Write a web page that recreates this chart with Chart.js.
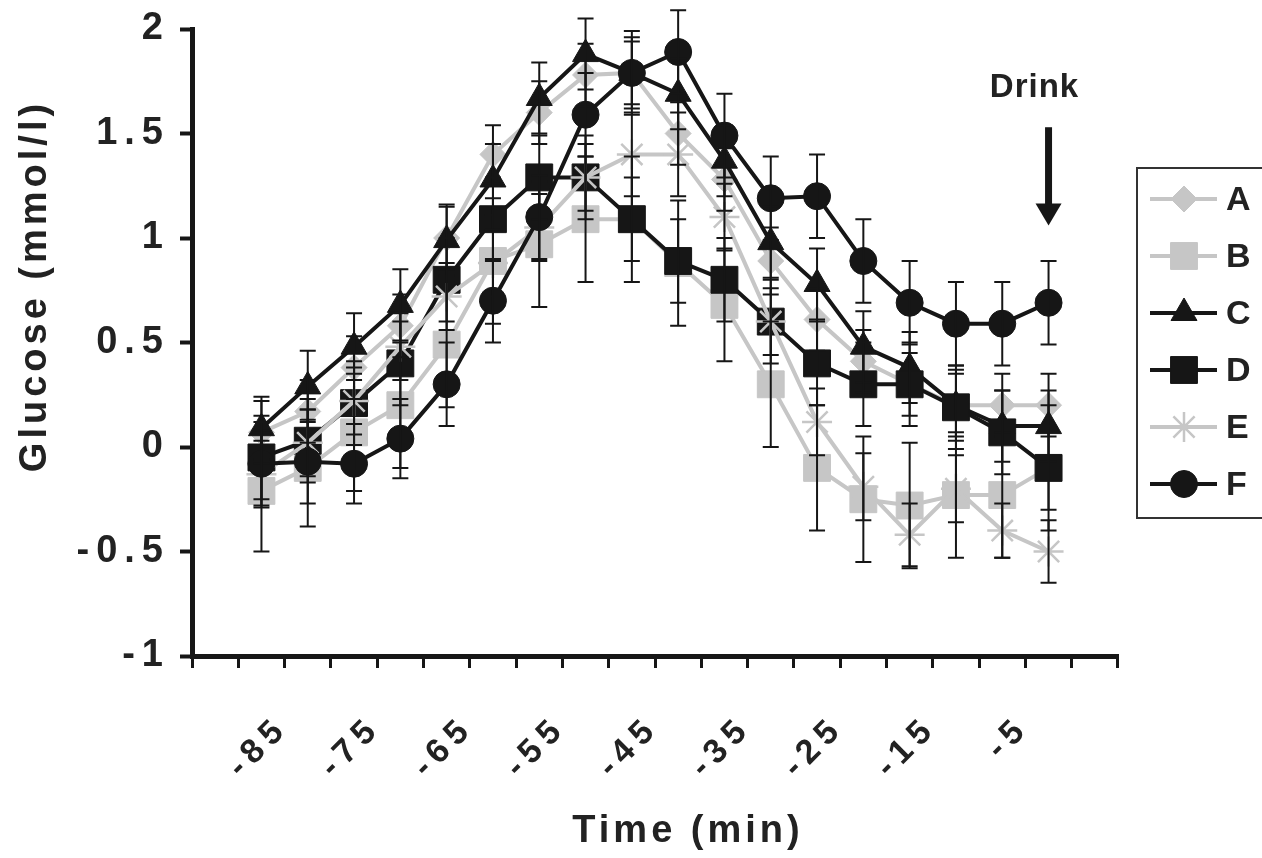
<!DOCTYPE html>
<html lang="en">
<head>
<meta charset="UTF-8">
<title>Glucose before drink</title>
<script src="https://cdn.jsdelivr.net/npm/chart.js@4.4.0/dist/chart.umd.min.js"></script>
<style>
  html, body { margin: 0; padding: 0; background: #fff; }
  #wrap { width: 1262px; height: 858px; }
</style>
</head>
<body>
<div id="wrap"><canvas id="chartCanvas" width="1262" height="858"></canvas></div>
<script>
// time categories (min); only every other one gets a label
const times = ['-90', '-85', '-80', '-75', '-70', '-65', '-60', '-55', '-50', '-45',
               '-40', '-35', '-30', '-25', '-20', '-15', '-10', '-5', '0', '5'];
const shownLabels = ['-85', '-75', '-65', '-55', '-45', '-35', '-25', '-15', '-5'];

// glucose change (mmol/l)
const seriesA = [null, 0.07, 0.17, 0.38, 0.58, 1.0, 1.4, 1.6, 1.78, 1.79, 1.5, 1.28, 0.89, 0.61, 0.41, 0.3, 0.2, 0.2, 0.2, null];
const seriesB = [null, -0.21, -0.1, 0.07, 0.2, 0.49, 0.89, 0.97, 1.09, 1.09, 0.88, 0.68, 0.3, -0.1, -0.25, -0.28, -0.23, -0.23, -0.1, null];
const seriesC = [null, 0.09, 0.29, 0.48, 0.68, 0.99, 1.28, 1.67, 1.88, 1.79, 1.69, 1.37, 0.98, 0.78, 0.48, 0.38, 0.2, 0.1, 0.1, null];
const seriesD = [null, -0.05, 0.03, 0.21, 0.4, 0.8, 1.09, 1.29, 1.29, 1.09, 0.89, 0.8, 0.6, 0.4, 0.3, 0.3, 0.19, 0.07, -0.1, null];
const seriesE = [null, -0.13, 0.02, 0.22, 0.48, 0.72, 0.88, 1.05, 1.29, 1.4, 1.4, 1.1, 0.6, 0.12, -0.19, -0.42, -0.2, -0.4, -0.5, null];
const seriesF = [null, -0.08, -0.07, -0.08, 0.04, 0.3, 0.7, 1.1, 1.59, 1.79, 1.89, 1.49, 1.19, 1.2, 0.89, 0.69, 0.59, 0.59, 0.69, null];

// standard errors
const errA = [null, 0.15, 0.15, 0.15, 0.15, 0.15, 0.14, 0.15, 0.15, 0.15, 0.15, 0.15, 0.16, 0.15, 0.15, 0.15, 0.15, 0.15, 0.15, null];
const errB = [null, 0.29, 0.28, 0.28, 0.3, 0.3, 0.3, 0.3, 0.3, 0.3, 0.3, 0.27, 0.3, 0.3, 0.3, 0.3, 0.3, 0.3, 0.3, null];
const errC = [null, 0.15, 0.17, 0.16, 0.17, 0.17, 0.17, 0.17, 0.17, 0.17, 0.17, 0.17, 0.17, 0.17, 0.17, 0.17, 0.17, 0.17, 0.17, null];
const errD = [null, 0.2, 0.2, 0.2, 0.2, 0.2, 0.2, 0.2, 0.2, 0.2, 0.2, 0.2, 0.2, 0.2, 0.2, 0.2, 0.2, 0.2, 0.2, null];
const errE = [null, 0.16, 0.16, 0.16, 0.16, 0.16, 0.16, 0.16, 0.16, 0.2, 0.2, 0.16, 0.16, 0.16, 0.16, 0.15, 0.16, 0.13, 0.15, null];
const errF = [null, 0.2, 0.2, 0.19, 0.19, 0.2, 0.2, 0.2, 0.2, 0.2, 0.2, 0.2, 0.2, 0.2, 0.2, 0.2, 0.2, 0.2, 0.2, null];

// drink annotation (category + y values)
const drinkAt = '0';
const drinkArrow = [1.53, 1.06];
const drinkText = 'Drink';

const GRAY = '#c6c6c6';
const BLACK = '#161616';
const FONT = "'Liberation Sans', Arial, sans-serif";

function makeSet(label, data, errors, color, style, radius, order) {
    return {
        label: label,
        data: data,
        errors: errors,
        borderColor: color,
        backgroundColor: color,
        pointBackgroundColor: color,
        pointBorderColor: color,
        pointStyle: style,
        pointRadius: radius,
        pointHoverRadius: radius,
        pointBorderWidth: style === 'star' ? 2.5 : 1,
        borderWidth: 4,
        tension: 0,
        order: order
    };
}

// error bars, drawn on top of the series like in the original
const errorBars = {
    id: 'errorBars',
    afterDatasetsDraw(chart) {
        const ctx = chart.ctx;
        const x = chart.scales.x, y = chart.scales.y;
        ctx.save();
        ctx.strokeStyle = BLACK;
        ctx.lineWidth = 2;
        chart.data.datasets.forEach(d => {
            d.data.forEach((v, i) => {
                if (v === null) return;
                const e = d.errors[i];
                const px = x.getPixelForValue(i);
                const t = y.getPixelForValue(v + e);
                const b = y.getPixelForValue(v - e);
                ctx.beginPath();
                ctx.moveTo(px, t); ctx.lineTo(px, b);
                ctx.moveTo(px - 8, t); ctx.lineTo(px + 8, t);
                ctx.moveTo(px - 8, b); ctx.lineTo(px + 8, b);
                ctx.stroke();
            });
        });
        ctx.restore();
    }
};

// spaced-out axis labels, like the scanned figure
const spacing = {
    id: 'spacing',
    beforeDraw(chart) { chart.ctx.letterSpacing = '7px'; },
    beforeDatasetsDraw(chart) { chart.ctx.letterSpacing = '0px'; }
};

// titles, drink arrow and boxed legend
const extras = {
    id: 'extras',
    afterDraw(chart) {
        const ctx = chart.ctx;
        const x = chart.scales.x, y = chart.scales.y;
        ctx.save();
        ctx.fillStyle = '#222';
        ctx.textAlign = 'center';
        ctx.textBaseline = 'middle';

        // axis titles
        ctx.letterSpacing = '4px';
        ctx.font = 'bold 38px ' + FONT;
        ctx.fillText('Time (min)', 688, 832);
        ctx.save();
        ctx.translate(36, 286);
        ctx.rotate(-Math.PI / 2);
        ctx.fillText('Glucose (mmol/l)', 0, 0);
        ctx.restore();

        // drink marker
        ctx.letterSpacing = '1px';
        const ax = x.getPixelForValue(times.indexOf(drinkAt));
        const top = y.getPixelForValue(drinkArrow[0]);
        const tip = y.getPixelForValue(drinkArrow[1]);
        ctx.font = 'bold 33px ' + FONT;
        ctx.textBaseline = 'alphabetic';
        ctx.fillText(drinkText, ax - 14, 97);
        ctx.strokeStyle = BLACK;
        ctx.lineWidth = 7;
        ctx.beginPath();
        ctx.moveTo(ax, top); ctx.lineTo(ax, tip - 18);
        ctx.stroke();
        ctx.fillStyle = BLACK;
        ctx.beginPath();
        ctx.moveTo(ax - 13, tip - 22); ctx.lineTo(ax + 13, tip - 22); ctx.lineTo(ax, tip);
        ctx.closePath();
        ctx.fill();

        // legend
        ctx.letterSpacing = '0px';
        ctx.strokeStyle = '#333';
        ctx.lineWidth = 2;
        ctx.strokeRect(1137, 168, 140, 350);
        ctx.font = 'bold 34px ' + FONT;
        ctx.textAlign = 'left';
        ctx.textBaseline = 'middle';
        chart.data.datasets.forEach((d, i) => {
            const ly = 199 + i * 57;
            ctx.strokeStyle = d.borderColor;
            ctx.lineWidth = d.borderWidth;
            ctx.beginPath();
            ctx.moveTo(1150, ly); ctx.lineTo(1217, ly);
            ctx.stroke();
            ctx.fillStyle = d.backgroundColor;
            ctx.lineWidth = d.pointBorderWidth;
            Chart.helpers.drawPoint(ctx, {
                pointStyle: d.pointStyle, radius: d.pointRadius,
                rotation: 0, borderWidth: d.pointBorderWidth
            }, 1184, ly);
            ctx.fillStyle = '#222';
            ctx.fillText(d.label, 1226, ly + 2);
        });
        ctx.restore();
    }
};

const ctx = document.getElementById('chartCanvas').getContext('2d');
const chart = new Chart(ctx, {
    type: 'line',
    data: {
        labels: times,
        datasets: [
            makeSet('A', seriesA, errA, GRAY, 'rectRot', 13, 6),
            makeSet('B', seriesB, errB, GRAY, 'rect', 19, 5),
            makeSet('C', seriesC, errC, BLACK, 'triangle', 15, 4),
            makeSet('D', seriesD, errD, BLACK, 'rect', 19, 3),
            makeSet('E', seriesE, errE, GRAY, 'star', 15, 2),
            makeSet('F', seriesF, errF, BLACK, 'circle', 13.5, 1)
        ]
    },
    options: {
        responsive: false,
        animation: false,
        layout: { padding: { left: 0, top: 26, right: 144, bottom: 0 } },
        plugins: {
            legend: { display: false },
            tooltip: { enabled: false }
        },
        scales: {
            x: {
                type: 'category',
                offset: true,
                grid: { offset: true, drawOnChartArea: false, drawTicks: true, tickLength: 12, tickWidth: 3, tickColor: BLACK },
                border: { display: true, color: BLACK, width: 5 },
                ticks: {
                    autoSkip: false, maxRotation: 45, minRotation: 45,
                    labelOffset: 22, padding: 40, color: '#222',
                    font: { family: FONT, size: 34, weight: 'bold' },
                    callback: function(v, i) { return shownLabels.includes(times[i]) ? times[i] : ''; }
                },
                afterFit(s) { s.height = 858 - 656; }
            },
            y: {
                min: -1, max: 2,
                grid: { drawOnChartArea: false, drawTicks: true, tickLength: 12, tickWidth: 4, tickColor: BLACK },
                border: { display: true, color: BLACK, width: 5 },
                ticks: {
                    stepSize: 0.5, padding: 10, color: '#222',
                    font: { family: FONT, size: 38, weight: 'bold', lineHeight: 1 },
                    callback: function(v) { return String(Number(v)); }
                },
                afterFit(s) { s.width = 192; }
            }
        }
    },
    plugins: [spacing, errorBars, extras]
});
</script>
</body>
</html>
